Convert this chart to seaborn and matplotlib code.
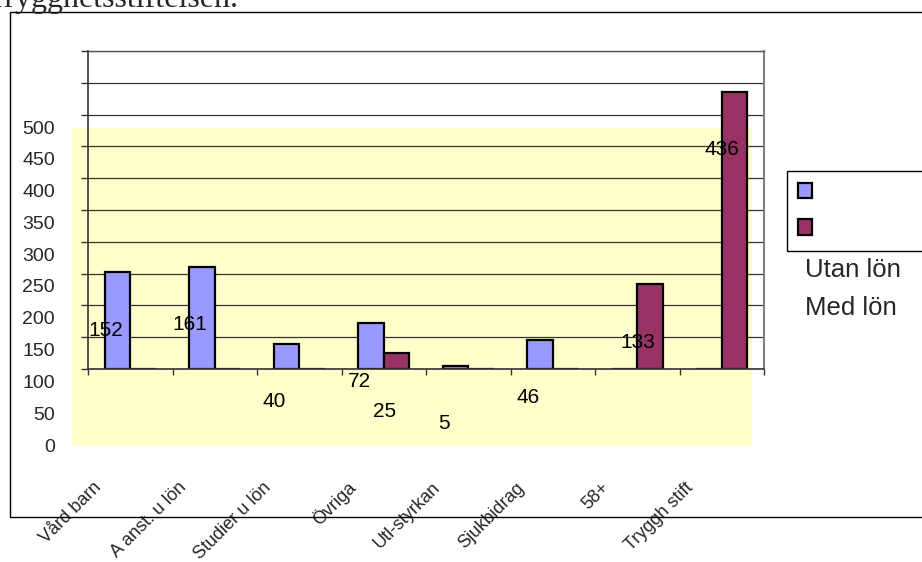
import numpy as np
import pandas as pd
import matplotlib
matplotlib.use("Agg")
import matplotlib.pyplot as plt
import matplotlib.transforms as mtransforms
from matplotlib.patches import Rectangle, Patch
import seaborn as sns

categories = ["Vård barn", "A anst. u lön", "Studier u lön", "Övriga",
              "Utl-styrkan", "Sjukbidrag", "58+", "Tryggh stift"]
series = ["Utan lön", "Med lön"]
utan_lon = [152, 161, 40, 72, 5, 46, 0, 0]
med_lon = [0, 0, 0, 25, 0, 0, 133, 436]
colors = ["#9999FF", "#993366"]
yticks = list(range(0, 501, 50))
title = "Trygghetsstiftelsen."

df = pd.DataFrame({
    "kategori": categories * 2,
    "antal": utan_lon + med_lon,
    "serie": [series[0]] * len(categories) + [series[1]] * len(categories),
})

sns.set_style("white")
plt.rcParams["font.family"] = ["Liberation Sans", "DejaVu Sans"]

W, H = 922, 562
fig = plt.figure(figsize=(W / 100, H / 100), dpi=100)
ax = fig.add_axes([88 / W, 1 - 369 / H, 676 / W, 318 / H])


def shift(dx, dy):
    # move things by whole pixels (display coords)
    return mtransforms.Affine2D().translate(dx, dy)


sns.barplot(data=df, x="kategori", y="antal", hue="serie", order=categories,
            hue_order=series, palette=colors, width=0.6, gap=0,
            edgecolor="black", linewidth=1.6, saturation=1, legend=False, ax=ax)

# data labels, drawn off from the bars like in the original
for cont in ax.containers:
    for bar in cont:
        h = bar.get_height()
        if h > 0:
            ax.annotate(f"{h:.0f}", xy=(bar.get_x() + bar.get_width() / 2, h),
                        xytext=(-12, -58), textcoords="offset pixels",
                        ha="center", va="center", fontsize=15, color="black",
                        zorder=5)

# pale yellow plot area, displaced
ax.add_patch(Rectangle((0, 0), 1.006, 1, transform=ax.transAxes + shift(-16, -77),
                       facecolor="#FFFFCC", edgecolor="none", zorder=0.1,
                       clip_on=False))

ax.set_xlim(-0.5, len(categories) - 0.5)
ax.set_ylim(0, 500)
ax.set_xlabel("")
ax.set_ylabel("")
ax.set_axisbelow(True)
ax.yaxis.grid(True, color="#333333", linewidth=0.9)
ax.xaxis.grid(False)

ax.set_yticks(yticks)
ax.set_yticklabels([str(t) for t in yticks], fontsize=14)
ax.tick_params(axis="y", which="major", direction="out", length=5, width=1,
               color="#333333", pad=18.8, left=True)

ax.set_xticks(range(len(categories)))
ax.set_xticklabels(categories, rotation=45, ha="right", va="center",
                   rotation_mode="anchor", fontsize=13)
ax.tick_params(axis="x", which="major", length=0, pad=0)
ax.set_xticks(np.arange(-0.5, len(categories), 1), minor=True)
ax.tick_params(axis="x", which="minor", direction="out", length=4.5, width=1,
               color="#333333", bottom=True)

for s in ["left", "bottom"]:
    ax.spines[s].set_color("#333333")
    ax.spines[s].set_linewidth(1.2)
ax.spines["right"].set_color("#808080")
ax.spines["right"].set_linewidth(1.5)
ax.spines["top"].set_color("#555555")
ax.spines["top"].set_linewidth(1.0)

# tick labels sit out of place in the original
for lbl in ax.get_yticklabels():
    lbl.set_transform(lbl.get_transform() + shift(0, -76))
for lbl in ax.get_xticklabels():
    lbl.set_transform(lbl.get_transform() + shift(-31, -116))

# legend box with the names written underneath it
handles = [Patch(facecolor=c, edgecolor="black", linewidth=1.6) for c in colors]
leg = fig.legend(handles, series, loc="upper left",
                 bbox_to_anchor=(787 / W, 1 - 171 / H), bbox_transform=fig.transFigure,
                 borderaxespad=0, fontsize=17, handlelength=0.62, handleheight=0.62,
                 labelspacing=0.62, borderpad=0.45, handletextpad=1.2,
                 frameon=True, fancybox=False, framealpha=1, edgecolor="black")
leg.get_frame().set_linewidth(1.0)
for t in leg.get_texts():
    t.set_alpha(0)
fig.text(805 / W, 1 - 270 / H, series[0], fontsize=18.5, va="center", ha="left")
fig.text(805 / W, 1 - 308 / H, series[1], fontsize=18.5, va="center", ha="left")

# chart border and the title cut off at the top
fig.patches.append(Rectangle((10 / W, 1 - 517 / H), 1.0, 505 / H,
                             transform=fig.transFigure, fill=False,
                             edgecolor="black", linewidth=1.0))
fig.text(238 / W, 1 - 7 / H, title, fontsize=23, ha="right", va="baseline",
         family=["Liberation Serif", "DejaVu Serif"])

fig.savefig("out.png", dpi=100)
